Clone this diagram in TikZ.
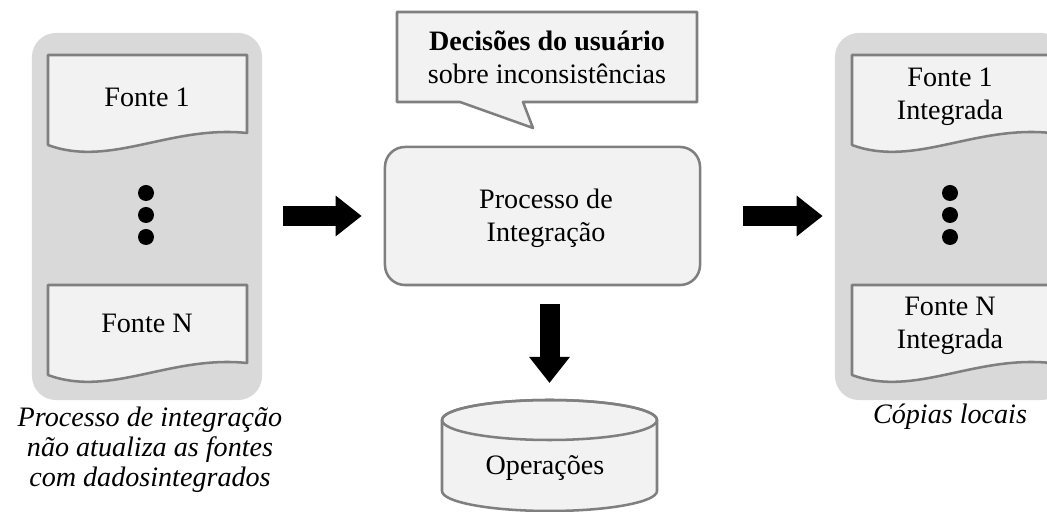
\documentclass[tikz,border=0pt]{standalone}
\usepackage{fontspec}
\setmainfont{Liberation Serif}
\usetikzlibrary{arrows.meta}
\definecolor{painelcinza}{HTML}{D9D9D9}
\definecolor{fundoclaro}{HTML}{F2F2F2}
\definecolor{bordacinza}{HTML}{7F7F7F}
\tikzset{
  texto/.style={font=\fontsize{20}{23.5}\selectfont, align=center, inner sep=0},
  legenda/.style={font=\fontsize{20}{21.5}\selectfont\itshape, align=center, inner sep=0},
  borda/.style={draw=bordacinza, line width=1.8pt, line join=round},
  painel/.style={fill=painelcinza, rounded corners=0.6cm, minimum width=5.75cm,
    minimum height=9.175cm, inner sep=0},
  caixa/.style={borda, fill=fundoclaro, rounded corners=0.5cm, minimum width=7.875cm,
    minimum height=3.45cm, inner sep=0},
  seta/.style={line width=0.5cm, -{Triangle[length=0.65cm, width=0.975cm]}}
}
\newcommand{\fontedoc}[1]{\draw[borda, fill=fundoclaro] #1 -- ++(199,0) -- ++(0,-78)
  .. controls +(-77,8) and +(62,-23) .. ++(-199,-12) -- cycle;}

\begin{document}
\begin{tikzpicture}[x=0.025cm, y=0.025cm]
  \useasboundingbox (0,0) rectangle (1047,512);
  \clip (0,0) rectangle (1047,512);
  % fontes de dados e copias locais
  \node[painel] (esq) at (147,295.5) {};
  \node[painel] (dir) at (950,295.5) {};
  \fontedoc{(48,457)}
  \fontedoc{(48,227)}
  \fontedoc{(852,457)}
  \fontedoc{(852,227)}
  \node[texto] (f1) at (147,415) {Fonte 1};
  \node[texto] (fn) at (147,189) {Fonte N};
  \node[texto] (fi1) at (950,415) {Fonte 1\\Integrada};
  \node[texto] (fin) at (950,186) {Fonte N\\Integrada};
  \foreach \y in {319,297,275} {
    \fill (146,\y) circle (8);
    \fill (950,\y) circle (8);
  }
  \node[legenda] (notaesq) at (150,62) {Processo de integração\\não atualiza as fontes\\com dadosintegrados};
  \node[legenda] (notadir) at (950,95) {Cópias locais};
  % balao de decisoes
  \draw[borda, fill=fundoclaro] (397,500) -- (697,500) -- (697,410) -- (523,410)
    -- (533,384) -- (460,410) -- (397,410) -- cycle;
  \node[texto] (decisao) at (547,455) {\textbf{Decisões do usuário}\\sobre inconsistências};
  % processo central
  \node[caixa] (proc) at (542.5,296) {};
  \node[texto] (proctxt) at (546,294) {Processo de\\Integração};
  % base de operacoes
  \coordinate (opstopo) at (549.5,112);
  \draw[borda, fill=fundoclaro] (442,92) -- (442,21)
    arc[start angle=180, end angle=360, x radius=107.5, y radius=20] -- (657,92)
    arc[start angle=0, end angle=180, x radius=107.5, y radius=20] -- cycle;
  \draw[borda] (549.5,92) ellipse [x radius=107.5, y radius=20];
  \node[texto] (ops) at (545,44) {Operações};
  % setas
  \draw[seta, shorten <=0.525cm, shorten >=0.55cm] (esq.east |- proc) -- (proc.west);
  \draw[seta, shorten <=1.05cm, shorten >=0.3cm] (proc.east) -- (dir.west |- proc);
  \draw[seta, shorten <=0.45cm, shorten >=0.425cm] (proc.south -| opstopo) -- (opstopo);
\end{tikzpicture}
\end{document}
